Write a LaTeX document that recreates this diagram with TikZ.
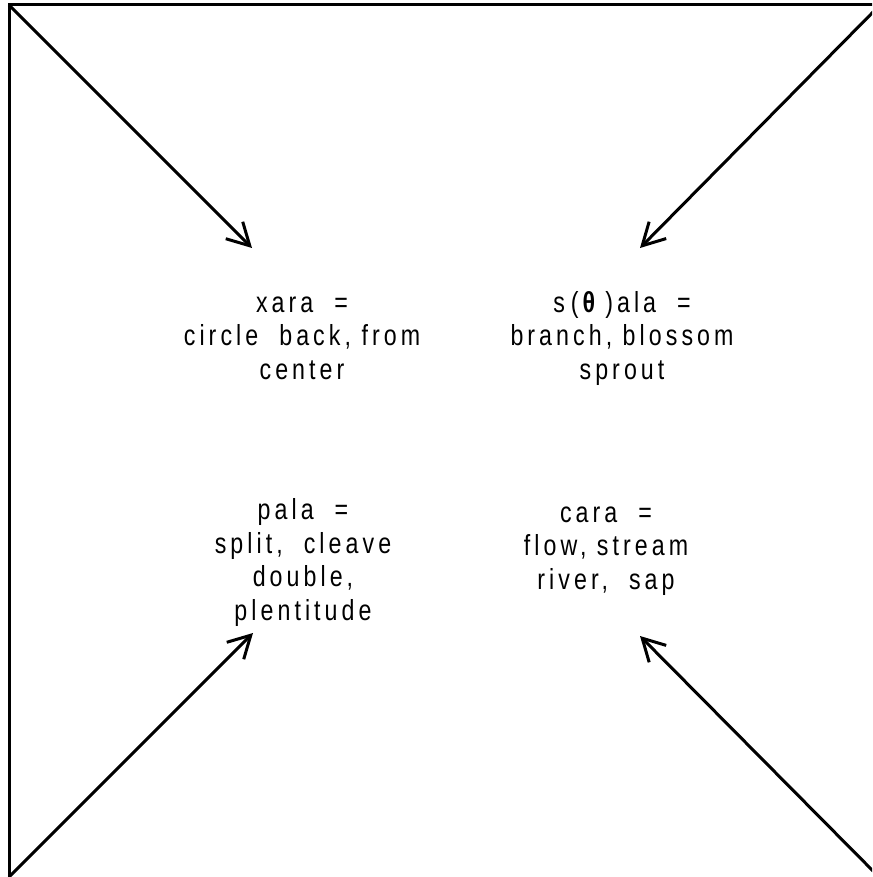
\documentclass[tikz,border=0pt]{standalone}
\usepackage{fontspec}
\setmainfont{Liberation Sans}[FakeStretch=0.8,LetterSpace=14]
\usetikzlibrary{arrows.meta}
\tikzset{
  gloss/.style={align=center, inner sep=0pt, anchor=base, font=\fontsize{14.5}{16.75}\selectfont},
  pointer/.style={line width=1.5pt, -{Straight Barb[length=11pt,width=12pt]}}
}
\begin{document}
\begin{tikzpicture}[x=0.5pt,y=-0.5pt]
      \clip (0,0) rectangle (872,877);
      \draw[line width=1.5pt] (9,5) rectangle (880,878);

      % Corners
      \coordinate (nw) at (9,5);
      \coordinate (ne) at (880,5);
      \coordinate (sw) at (9,877);
      \coordinate (se) at (880,878);

      % Tips
      \coordinate (nwtip) at (252,248);
      \coordinate (netip) at (640,248);
      \coordinate (swtip) at (253,633);
      \coordinate (setip) at (640,636);

      % Nodes (placed at the baseline of their last line)
      \node (xara) at (302,379) [gloss] {xara\ \ =\\circle\ \ back, from\\center};
      \node (sala) at (622,379) [gloss] {s\kern3pt(\textbf{θ}\kern3pt)ala\ \ =\\branch, blossom\\sprout};
      \node (pala) at (303,620) [gloss] {pala\ \ =\\split,\ \ cleave\\double,\\plentitude};
      \node (cara) at (606,589) [gloss] {cara\ \ =\\flow, stream\\river,\ \ sap};

      % Edges
      \draw[pointer] (nw) -- (nwtip);
      \draw[pointer] (ne) -- (netip);
      \draw[pointer] (sw) -- (swtip);
      \draw[pointer] (se) -- (setip);
\end{tikzpicture}
\end{document}
